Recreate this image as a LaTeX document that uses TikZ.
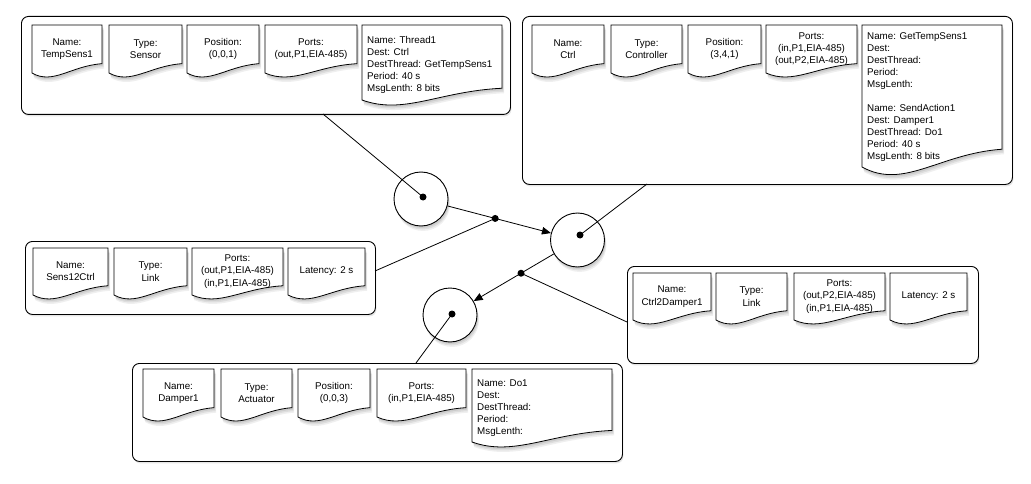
\documentclass[tikz,border=0pt]{standalone}
\usepackage{fontspec}
\setmainfont{Liberation Sans}
\usetikzlibrary{shadows,arrows.meta,calc}
\tikzset{
  softshadow/.style={
    drop shadow={shadow xshift=1pt, shadow yshift=-2pt, opacity=0.18},
    drop shadow={shadow xshift=1.5pt, shadow yshift=-3.5pt, opacity=0.16},
    drop shadow={shadow xshift=2pt, shadow yshift=-5pt, opacity=0.12}},
  container/.style={draw=black, line width=0.9pt, rounded corners=7pt, fill=white, inner sep=0pt,
    anchor=north west, drop shadow={shadow xshift=1pt, shadow yshift=-2pt, opacity=0.2}},
  docfill/.style={draw=black, line width=0.8pt, fill=white, softshadow},
  doctext/.style={font=\fontsize{9.8}{12.3}\selectfont, align=center, inner sep=0pt},
  threadtext/.style={font=\fontsize{9.8}{12}\selectfont, align=left, inner sep=0pt, anchor=west},
  hub/.style={circle, draw=black, line width=0.9pt, fill=white, minimum size=54pt, inner sep=0pt, softshadow},
  dot/.style={circle, fill=black, inner sep=0pt, minimum size=7pt},
  link/.style={line width=0.8pt},
  flow/.style={link, -{Triangle[length=9pt,width=7.5pt]}},
}
% #1 x, #2 y, #3 width, #4 height of the left side
\newcommand\docoutline[4]{%
  \pgfmathsetmacro\docamp{5+0.09*#4}%
  \filldraw[docfill] (#1,#2) -- ({#1+#3},#2) -- ({#1+#3},{#2+#4-\docamp})
    .. controls ({#1+0.55*#3},{#2+#4-0.75*\docamp}) and ({#1+0.3*#3},{#2+#4+1.3*\docamp}) .. (#1,{#2+#4}) -- cycle;}
\newcommand\docbox[6]{%
  \docoutline{#2}{#3}{#4}{#5}%
  \node[doctext] (#1) at ({#2+0.5*#4},{#3+0.5*#5}) {#6};}
\newcommand\threadbox[7]{%
  \docoutline{#2}{#3}{#4}{#5}%
  \node[threadtext] (#1) at ({#2+5},#6) {#7};}
\begin{document}
\begin{tikzpicture}[x=1pt,y=-1pt]
\useasboundingbox (0,0) rectangle (1031,484);

% containers
\node[container, minimum width=489pt, minimum height=98pt] (tl) at (21,16) {};
\node[container, minimum width=490pt, minimum height=168pt] (tr) at (522,16) {};
\node[container, minimum width=350pt, minimum height=73pt] (ml) at (25,241) {};
\node[container, minimum width=351pt, minimum height=97pt] (mr) at (627,266) {};
\node[container, minimum width=490pt, minimum height=98pt] (bt) at (132,363) {};

% TempSens1
\docbox{tlname}{32}{25}{70}{48}{Name:\\TempSens1}
\docbox{tltype}{109}{25}{73}{48}{Type:\\Sensor}
\docbox{tlpos}{187}{25}{72}{48}{Position:\\(0,0,1)}
\docbox{tlports}{265}{25}{92}{48}{Ports:\\(out,P1,EIA-485)}
\threadbox{tlthread}{362}{25}{140}{75}{65}{Name: Thread1\\Dest: Ctrl\\DestThread: GetTempSens1\\Period: 40 s\\MsgLenth: 8 bits}

% Ctrl
\docbox{trname}{532}{25}{72}{48}{Name:\\Ctrl}
\docbox{trtype}{611}{25}{71}{48}{Type:\\Controller}
\docbox{trpos}{688}{25}{73}{48}{Position:\\(3,4,1)}
\docbox{trports}{766}{25}{91}{48}{Ports:\\(in,P1,EIA-485)\\(out,P2,EIA-485)}
\threadbox{trthread}{862}{25}{140}{142}{97}{Name: GetTempSens1\\Dest:\\DestThread:\\Period:\\MsgLenth:\\[12pt]Name: SendAction1\\Dest: Damper1\\DestThread: Do1\\Period: 40 s\\MsgLenth: 8 bits}

% Sens12Ctrl
\docbox{mlname}{33}{248}{75}{47}{Name:\\Sens12Ctrl}
\docbox{mltype}{114}{248}{73}{47}{Type:\\Link}
\docbox{mlports}{192}{248}{91}{47}{Ports:\\(out,P1,EIA-485)\\(in,P1,EIA-485)}
\docbox{mllat}{288}{248}{77}{47}{Latency: 2 s}

% Ctrl2Damper1
\docbox{mrname}{633}{273}{78}{47}{Name:\\Ctrl2Damper1}
\docbox{mrtype}{716}{273}{71}{47}{Type:\\Link}
\docbox{mrports}{794}{273}{91}{47}{Ports:\\(out,P2,EIA-485)\\(in,P1,EIA-485)}
\docbox{mrlat}{890}{273}{77}{47}{Latency: 2 s}

% Damper1
\docbox{btname}{143}{369}{71}{48}{Name:\\Damper1}
\docbox{bttype}{221}{369}{71}{48}{Type:\\Actuator}
\docbox{btpos}{298}{369}{72}{48}{Position:\\(0,0,3)}
\docbox{btports}{377}{369}{89}{48}{Ports:\\(in,P1,EIA-485)}
\threadbox{btthread}{472}{369}{140}{73}{408}{Name: Do1\\Dest:\\DestThread:\\Period:\\MsgLenth:}

% hubs
\node[hub] (c1) at (421,199) {};
\node[hub] (c2) at (577.5,240) {};
\node[hub] (c3) at (450,315) {};

\coordinate (d1) at (423,197);
\coordinate (d2) at (580,235);
\coordinate (d3) at (452,314);
\coordinate (j1) at ($(c1)!0.474!(c2)$);
\coordinate (j2) at ($(c2)!0.443!(c3)$);

\coordinate (tlport) at (323,114);
\coordinate (trport) at (647,184);
\coordinate (mlport) at (375,271);
\coordinate (mrport) at (627,322);
\coordinate (btport) at (416,363);

\draw[link] (tlport) -- (d1);
\draw[link] (trport) -- (d2);
\draw[link] (d3) -- (btport);
\draw[flow] (c1) -- (c2);
\draw[flow] (c2) -- (c3);
\draw[link] (mlport) -- (j1);
\draw[link] (j2) -- (mrport);

\node[dot] (d1n) at (d1) {};
\node[dot] (d2n) at (d2) {};
\node[dot] (d3n) at (d3) {};
\node[dot] (j1n) at (j1) {};
\node[dot] (j2n) at (j2) {};
\end{tikzpicture}
\end{document}
